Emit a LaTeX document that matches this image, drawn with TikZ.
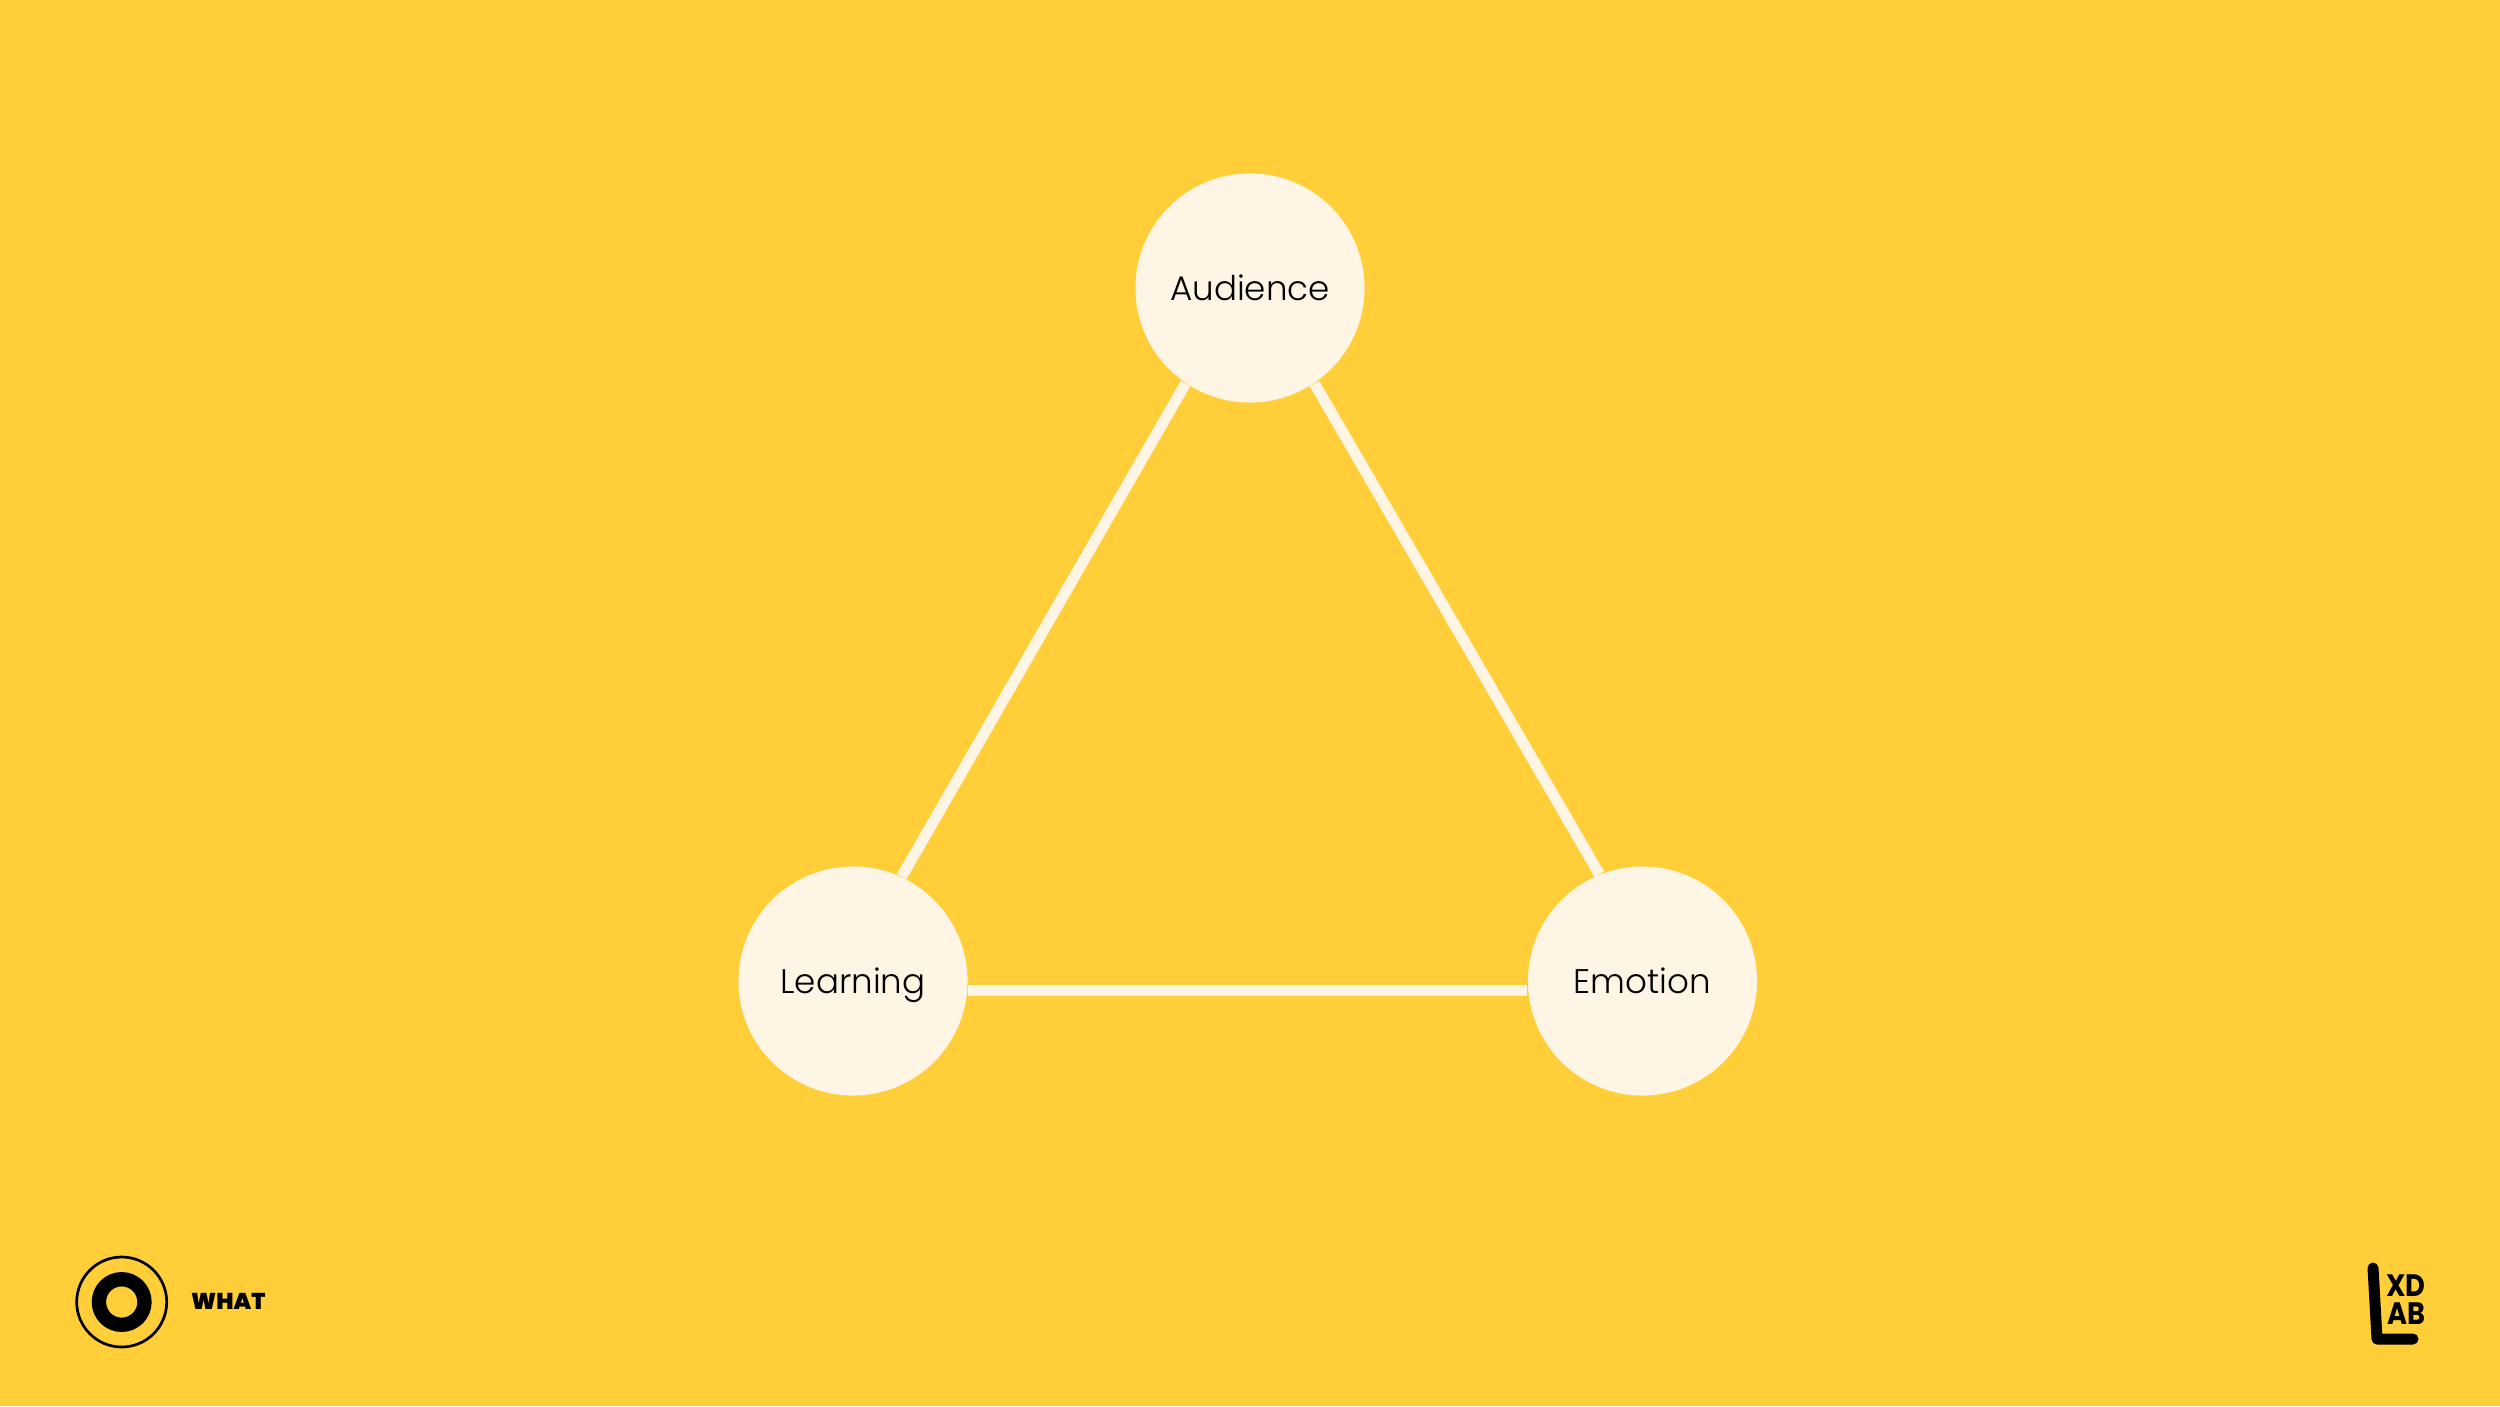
\documentclass[tikz,border=0pt]{standalone}
\usepackage{fontspec}
\setmainfont{Poppins}
\newfontfamily\labelfont{Poppins Light}
\newfontfamily\logofont{Poppins Black}
\newfontfamily\letterfont{Poppins Bold}
\usetikzlibrary{positioning,backgrounds}
\definecolor{bgyellow}{HTML}{FFCE38}
\definecolor{cream}{HTML}{FFF5E5}
\definecolor{inkblack}{HTML}{000000}
\tikzset{
  topic/.style={circle, fill=cream, minimum size=2.29cm, inner sep=0pt, text=inkblack, text height=8pt, text depth=1pt, font=\labelfont\fontsize{9.7}{12}\selectfont},
  link/.style={draw=cream, line width=1.1mm},
  tag/.style={inner sep=0pt, text=inkblack, font=\logofont\fontsize{6.5}{8}\selectfont},
  logoletter/.style={inner sep=0pt, text=inkblack, xscale=0.88, font=\letterfont\fontsize{8.8}{9}\selectfont}
}
\begin{document}
\begin{tikzpicture}[x=0.01cm, y=-0.01cm]
\useasboundingbox (0,0) rectangle (2500,1406);
\node[topic] (audience) at (1250,288) {Audience};
\node[topic] (learning) at (853,981) {Learning};
\node[topic] (emotion) at (1642.5,981) {Emotion};
\begin{scope}[on background layer]
\fill[bgyellow] (0,0) rectangle (2500,1406);
\draw[link] (audience.236) -- (learning.65);
\draw[link] (audience.-56) -- (emotion.112);
\draw[link] ([yshift=-0.09cm]learning.east) -- ([yshift=-0.09cm]emotion.west);
\end{scope}
% footer marks
\draw[inkblack, line width=0.027cm] (121.7,1302) circle (45);
\draw[inkblack, line width=0.143cm] (121.7,1302) circle (22.8);
\node[tag, anchor=west] (what) at (190.5,1301) {WHAT};
\draw[inkblack, line width=0.11cm, line cap=round, line join=round] (2373,1268) -- (2377,1339) -- (2413,1339);
\node[logoletter] (xd) at (2406,1286) {XD};
\node[logoletter] (ab) at (2406,1314) {AB};
\end{tikzpicture}
\end{document}
